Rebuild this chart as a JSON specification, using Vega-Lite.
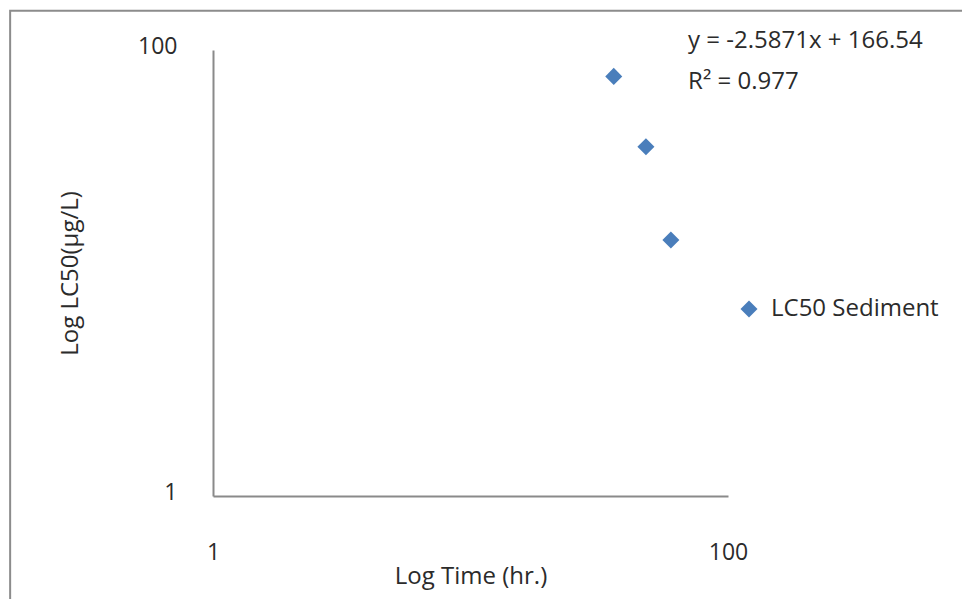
{
  "$schema": "https://vega.github.io/schema/vega-lite/v6.json",
  "width": 515,
  "height": 446,
  "autosize": {"type": "none"},
  "padding": {"left": 213, "top": 50, "right": 234, "bottom": 103},
  "background": "white",
  "config": {
    "view": {"stroke": null},
    "font": "Open Sans",
    "axis": {
      "grid": false,
      "ticks": false,
      "domainColor": "#8a8a8a",
      "domainWidth": 2,
      "labelColor": "#2b2b2b",
      "titleColor": "#2b2b2b",
      "labelFontSize": 23,
      "titleFontSize": 24,
      "titleFontWeight": "normal",
      "labelFlush": false,
      "labelOverlap": false
    }
  },
  "data": {
    "values": [
      {"time": 36, "lc50": 76.15, "series": "LC50 Sediment"},
      {"time": 48, "lc50": 36.86, "series": "LC50 Sediment"},
      {"time": 60, "lc50": 14.06, "series": "LC50 Sediment"}
    ]
  },
  "layer": [
    {
      "data": {"values": [{}]},
      "mark": {"type": "rect", "fill": null, "stroke": "#8c8c8c", "strokeWidth": 2, "clip": false},
      "encoding": {
        "x": {"datum": 0.163, "type": "quantitative"},
        "x2": {"datum": 100000},
        "y": {"datum": 150, "type": "quantitative"},
        "y2": {"datum": 0.001}
      }
    },
    {
      "mark": {"type": "point", "shape": "diamond", "filled": true, "opacity": 1, "size": 290},
      "encoding": {
        "x": {
          "field": "time",
          "type": "quantitative",
          "scale": {"type": "log", "domain": [1, 100], "nice": false},
          "axis": {"values": [1, 100], "format": "d", "labelPadding": 45, "title": "Log Time (hr.)", "titlePadding": 0}
        },
        "y": {
          "field": "lc50",
          "type": "quantitative",
          "scale": {"type": "log", "domain": [1, 100], "nice": false},
          "axis": {"values": [1, 100], "format": "d", "labelPadding": 36, "labelOffset": -4, "title": "Log LC50(µg/L)", "titlePadding": 55}
        },
        "color": {
          "field": "series",
          "type": "nominal",
          "scale": {"range": ["#4A7EBB"]},
          "legend": {
            "title": null,
            "orient": "none",
            "legendX": 524,
            "legendY": 247,
            "symbolType": "diamond",
            "symbolSize": 290,
            "symbolOpacity": 1,
            "labelFontSize": 24,
            "labelLimit": 400,
            "labelColor": "#2b2b2b",
            "labelOffset": 10
          }
        }
      }
    },
    {
      "data": {"values": [{"label": "y = -2.5871x + 166.54"}]},
      "mark": {"type": "text", "align": "left", "baseline": "alphabetic", "fontSize": 24, "color": "#2b2b2b", "clip": false},
      "encoding": {
        "x": {"datum": 70, "type": "quantitative"},
        "y": {"datum": 101.6, "type": "quantitative"},
        "text": {"field": "label"}
      }
    },
    {
      "data": {"values": [{"label": "R² = 0.977"}]},
      "mark": {"type": "text", "align": "left", "baseline": "alphabetic", "fontSize": 24, "color": "#2b2b2b", "clip": false},
      "encoding": {
        "x": {"datum": 70, "type": "quantitative"},
        "y": {"datum": 66.8, "type": "quantitative"},
        "text": {"field": "label"}
      }
    }
  ]
}
